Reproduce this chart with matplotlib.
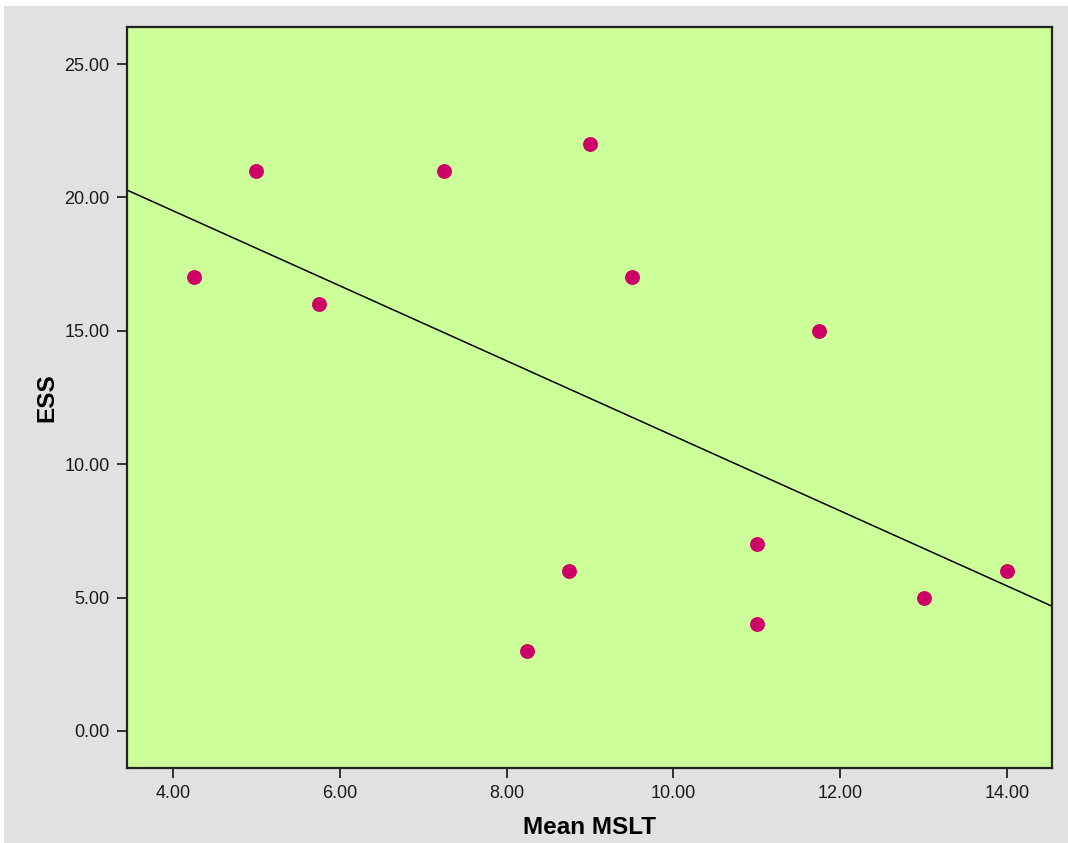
import numpy as np
import matplotlib.pyplot as plt
from matplotlib.patches import Rectangle

# Mean MSLT vs ESS
mslt = [4.25, 5.00, 5.75, 7.25, 8.25, 8.75, 9.00, 9.50, 11.00, 11.00, 11.75, 13.00, 14.00]
ess = [17, 21, 16, 21, 3, 6, 22, 17, 7, 4, 15, 5, 6]

x_ticks = [4, 6, 8, 10, 12, 14]
y_ticks = [0, 5, 10, 15, 20, 25]

plt.rcParams['font.family'] = ['Liberation Sans', 'DejaVu Sans']

fig = plt.figure(figsize=(10.68, 8.43), dpi=100)
fig.patch.set_facecolor('white')
fig.patches.append(Rectangle((4 / 1068, 0), 1, 1 - 6 / 843,
                             transform=fig.transFigure, facecolor='#e1e1e1',
                             edgecolor='none', zorder=-10))

ax = fig.add_axes([127 / 1068, 1 - 768 / 843, 925 / 1068, 741 / 843])
ax.set_facecolor('#ccff99')

ax.scatter(mslt, ess, s=115, color='#cc0066', zorder=3, linewidths=0)

# least squares fit line across the full x range
xlim = (3.45, 14.54)
slope, intercept = np.polyfit(mslt, ess, 1)
xs = np.array(xlim)
ax.plot(xs, slope * xs + intercept, color='black', lw=1.1, zorder=2)

ax.set_xlim(xlim)
ax.set_ylim(-1.39, 26.39)
ax.set_xticks(x_ticks)
ax.set_yticks(y_ticks)
ax.set_xticklabels([f'{v:.2f}' for v in x_ticks])
ax.set_yticklabels([f'{v:.2f}' for v in y_ticks])
ax.tick_params(length=7.5, width=1.3, color='#222222', labelsize=13, labelcolor='#1a1a1a', pad=5)

for s in ax.spines.values():
    s.set_linewidth(1.6)
    s.set_color('#222222')

ax.set_xlabel('Mean MSLT', fontsize=17.5, fontweight='bold', labelpad=10)
ax.set_ylabel('ESS', fontsize=17.5, fontweight='bold', labelpad=4)

fig.savefig('out.png', dpi=100)
